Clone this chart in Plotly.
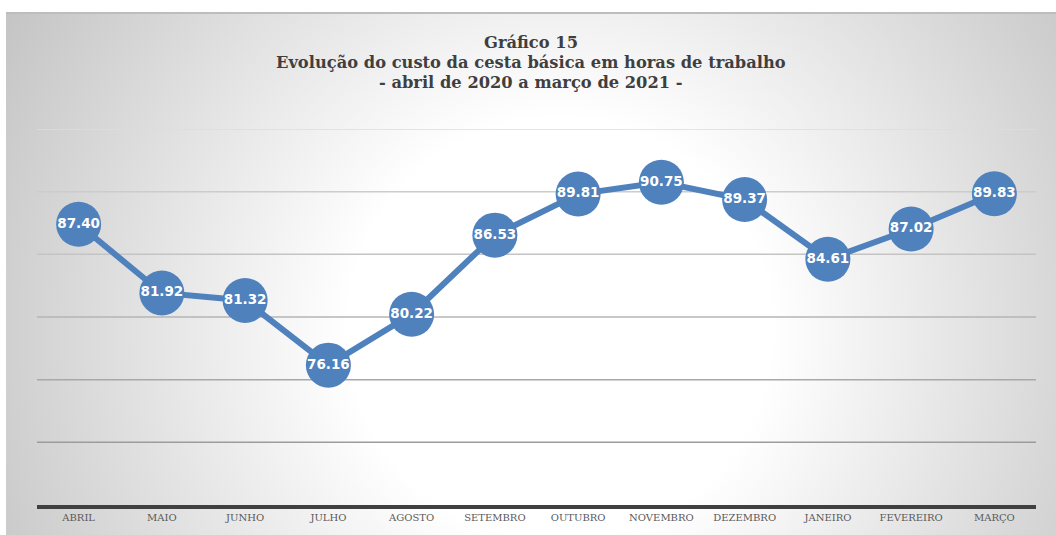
import base64
import plotly.graph_objects as go

months = ["ABRIL", "MAIO", "JUNHO", "JULHO", "AGOSTO", "SETEMBRO",
          "OUTUBRO", "NOVEMBRO", "DEZEMBRO", "JANEIRO", "FEVEREIRO", "MARÇO"]
hours = [87.40, 81.92, 81.32, 76.16, 80.22, 86.53,
         89.81, 90.75, 89.37, 84.61, 87.02, 89.83]
grid_vals = [70, 75, 80, 85, 90, 95]
grid_colors = ["#9c9c9c", "#a8a8a8", "#b4b4b4", "#c4c4c4", "#cccccc", "#dddddd"]
title_lines = ["Gráfico 15",
               "Evolução do custo da cesta básica em horas de trabalho",
               "- abril de 2020 a março de 2021 -"]

W, H = 1056, 535
L, R, T, B = 37, 20, 129, 30
pw, ph = W - L - R, H - T - B

svg = (
    '<svg xmlns="http://www.w3.org/2000/svg" width="1050" height="523" '
    'viewBox="0 0 1050 523" preserveAspectRatio="none">'
    '<defs><radialGradient id="g" gradientUnits="userSpaceOnUse" '
    'cx="554" cy="318" r="640">'
    '<stop offset="0" stop-color="#ffffff"/>'
    '<stop offset="0.33" stop-color="#ffffff"/>'
    '<stop offset="1" stop-color="#c4c4c4"/>'
    '</radialGradient></defs>'
    '<rect x="0" y="0" width="1050" height="523" fill="url(#g)"/>'
    '<line x1="0" y1="1" x2="1050" y2="1" stroke="#bdbdbd" stroke-width="2"/>'
    '</svg>'
)
src = "data:image/svg+xml;base64," + base64.b64encode(svg.encode()).decode()

fig = go.Figure()
fig.add_trace(go.Scatter(
    x=months, y=hours,
    mode="lines+markers+text",
    line=dict(color="#4f81bd", width=6),
    marker=dict(color="#4f81bd", size=45, line=dict(width=0)),
    text=[f"{v:.2f}" for v in hours],
    textposition="middle center",
    textfont=dict(family="DejaVu Sans", size=13.5, color="white", weight="bold"),
    cliponaxis=False,
    hoverinfo="skip",
))

fig.add_layout_image(dict(
    source=src, xref="paper", yref="paper",
    x=(6 - L) / pw, y=(H - B - 12) / ph,
    sizex=(W - 6) / pw, sizey=(H - 12) / ph,
    xanchor="left", yanchor="top", sizing="stretch", layer="below",
))

for gv, gc in zip(grid_vals, grid_colors):
    fig.add_shape(type="line", xref="paper", yref="y", x0=0, x1=1, y0=gv, y1=gv,
                  line=dict(color=gc, width=1.5), layer="below")

for line, ypx in zip(title_lines, [42.5, 62.5, 82]):
    fig.add_annotation(
        text=f"<b>{line}</b>",
        xref="paper", yref="paper",
        x=(531 - L) / pw, y=(H - B - ypx) / ph,
        xanchor="center", yanchor="middle", showarrow=False,
        font=dict(family="DejaVu Serif", size=16.3, color="#3f3f3f"),
    )

fig.update_layout(
    width=W, height=H,
    margin=dict(l=L, r=R, t=T, b=B, pad=0),
    paper_bgcolor="white",
    plot_bgcolor="rgba(0,0,0,0)",
    showlegend=False,
    xaxis=dict(
        type="category", range=[-0.5, 11.5],
        showgrid=False, showline=True, linecolor="#404040", linewidth=4,
        ticks="", tickfont=dict(family="DejaVu Serif", size=10, color="#595959"),
        zeroline=False, fixedrange=True,
    ),
    yaxis=dict(
        range=[65, 95], showticklabels=False, showgrid=False,
        zeroline=False, showline=False, ticks="", fixedrange=True,
    ),
)

fig.write_html(
    "out.html",
    config={"displayModeBar": False},
    post_script="document.body.style.margin='0';document.body.style.overflow='hidden';",
)
